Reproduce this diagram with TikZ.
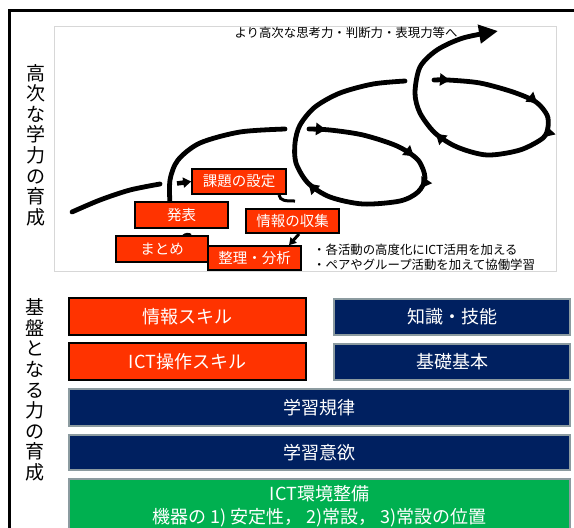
\documentclass[tikz,border=0pt]{standalone}
\usepackage{fontspec}
\setmainfont{Noto Sans CJK JP}
\usetikzlibrary{arrows.meta,decorations.markings}
\definecolor{flowred}{RGB}{255,51,0}
\definecolor{navyblue}{RGB}{0,32,96}
\definecolor{envgreen}{RGB}{0,176,80}
\definecolor{edgegray}{RGB}{140,155,160}
\definecolor{framegray}{RGB}{215,215,215}
\begin{document}
\begin{tikzpicture}[x=1pt,y=-1pt,
  spiral/.style={line width=4.8pt, line cap=round},
  tri/.tip={Triangle[length=10pt,width=12pt]},
  bigtri/.tip={Triangle[length=19pt,width=18pt]},
  flowbox/.style={draw=black, line width=1.6pt, fill=flowred, text=white, inner sep=0pt, font=\fontsize{14.5}{16}\selectfont},
  redbar/.style={draw=black, line width=1.6pt, fill=flowred, text=white, inner sep=0pt, font=\fontsize{18}{20}\selectfont},
  navybar/.style={draw=edgegray, line width=1.5pt, fill=navyblue, text=white, inner sep=0pt, font=\fontsize{18}{20}\selectfont},
  greenbar/.style={draw=edgegray, line width=1.5pt, fill=envgreen, inner sep=0pt},
  sidelabel/.style={align=center, inner sep=0pt, font=\fontsize{19}{20.6}\selectfont},
  note/.style={inner sep=0pt, font=\fontsize{12.4}{14}\selectfont}
]
\useasboundingbox (0,0) rectangle (574,528);
\fill[white] (0,0) rectangle (574,528);
% outer frame
\draw[line width=2.2pt] (9.5,560) -- (9.5,10.5) -- (590,10.5);
% inner picture frame
\draw[framegray, line width=0.8pt] (54,26) rectangle (556,271);

% side labels
\node[sidelabel] (lab1) at (36,145) {高\\次\\な\\学\\力\\の\\育\\成};
\node[sidelabel] (lab2) at (35,390) {基\\盤\\と\\な\\る\\力\\の\\育\\成};

% top text
\node[note] (goal) at (346,33) {より高次な思考力・判断力・表現力等へ};

% spiral pieces
\draw[spiral] plot[smooth] coordinates {(72,212) (100,200) (130,190) (160,184)};
\draw[spiral] plot[smooth] coordinates {(170,205) (170,180) (178,160) (200,143) (240,132) (285,129)};
\draw[spiral, postaction={decorate}, decoration={markings,
  mark=at position 17pt with {\arrow{tri}},
  mark=at position 110pt with {\arrow{tri}},
  mark=at position 146pt with {\arrow{tri}},
  mark=at position 268pt with {\arrow{tri}}}]
  plot[smooth] coordinates {(309,129) (330,130) (363,135) (397,146) (418,160) (425,178) (418,192) (400,201) (363,204) (330,197) (308,183) (296,163) (295,143) (300,125) (315,107) (340,93) (373,84) (405,81)};
\draw[spiral, -bigtri, postaction={decorate}, decoration={markings,
  mark=at position 16pt with {\arrow{tri}},
  mark=at position 107pt with {\arrow{tri}},
  mark=at position 146pt with {\arrow{tri}},
  mark=at position 263pt with {\arrow{tri}}}]
  plot[smooth] coordinates {(434,80) (448,80) (480,83) (513,92) (536,102) (547,115) (548,127) (543,138) (520,150) (487,155) (457,147) (435,133) (420,113) (415,93) (420,67) (437,50) (463,38) (498,31)};

% flow boxes
\node[flowbox, minimum width=94pt, minimum height=25pt] (kadai) at (239,181.5) {課題の設定};
\node[flowbox, minimum width=93pt, minimum height=26pt] (happyo) at (181.5,215) {発表};
\node[flowbox, minimum width=93pt, minimum height=24pt] (shushu) at (292.5,221) {情報の収集};
\node[flowbox, minimum width=92pt, minimum height=26pt] (matome) at (162,249) {まとめ};
\node[flowbox, minimum width=93pt, minimum height=24pt] (seiri) at (254.5,258) {整理・分析};

% small connectors between boxes
\coordinate (kadaiout) at (279,195);
\coordinate (shushuin) at (295,201);
\draw[line width=3pt] (kadaiout) .. controls (280,201) and (286,201) .. (shushuin);
\draw[line width=3pt, -{Triangle[length=7pt,width=8pt]}] (299,234) -- (seiri.north -| 289,0);
\coordinate (matomeout) at (183,236);
\coordinate (happyoin) at (191,235);
\draw[line width=2.2pt] (matomeout) .. controls (185,233.5) and (189,233.5) .. (happyoin);

% arrow into kadai
\coordinate (astart) at (177,183.5);
\draw[line width=4.5pt, -{Triangle[length=8pt,width=10pt]}] (astart) -- (kadai.west);

% notes
\node[note, anchor=west] (note1) at (313,250) {・各活動の高度化にICT活用を加える};
\node[note, anchor=west] (note2) at (313,265) {・ペアやグループ活動を加えて協働学習};

% foundation bars
\node[redbar, minimum width=237pt, minimum height=37pt] (jskill) at (187.5,316.5) {情報スキル};
\node[navybar, minimum width=236pt, minimum height=36pt] (chishiki) at (452,317) {知識・技能};
\node[redbar, minimum width=237pt, minimum height=37pt] (ictskill) at (187.5,361.5) {ICT操作スキル};
\node[navybar, minimum width=236pt, minimum height=36pt] (kiso) at (452,362) {基礎基本};
\node[navybar, minimum width=501pt, minimum height=37pt] (kiritsu) at (319.5,407.5) {学習規律};
\node[navybar, minimum width=501pt, minimum height=35pt] (iyoku) at (319.5,452.5) {学習意欲};
\node[greenbar, minimum width=501pt, minimum height=70pt] (env) at (319.5,514) {};
\node[align=center, text=white, inner sep=0pt, font=\fontsize{18}{23}\selectfont] (envtext) at (319.5,506) {ICT環境整備\\機器の 1) 安定性，\ 2)常設，\ 3)常設の位置};
\end{tikzpicture}
\end{document}
